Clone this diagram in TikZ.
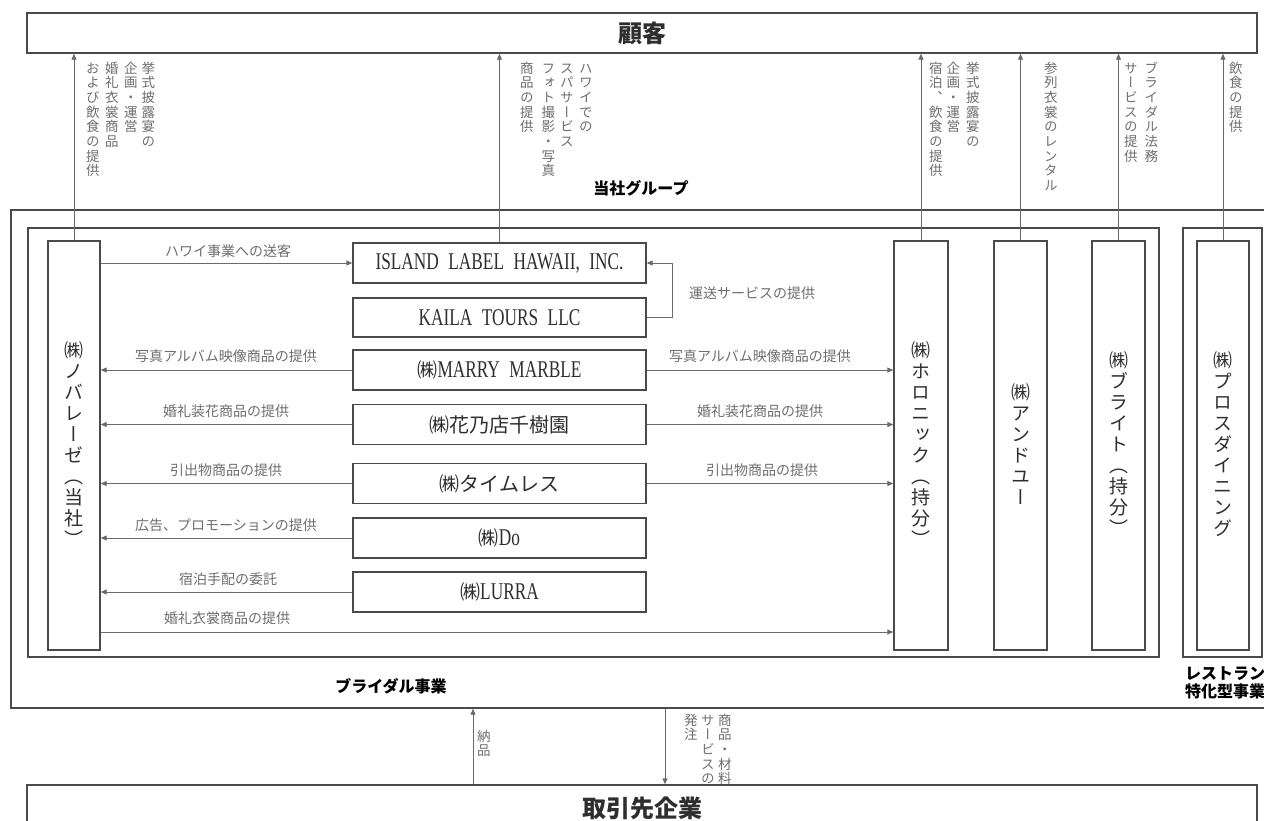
\documentclass[tikz,border=0pt]{standalone}
\usepackage{fontspec}
\setmainfont{Noto Sans CJK JP}
\newfontfamily\vfont[RawFeature=+vert]{Noto Sans CJK JP}
\newfontfamily\latfont[FakeStretch=0.72,WordSpace=2.2]{Liberation Serif}
\newcommand\latf{\latfont\fontsize{24}{26}\selectfont}
\usetikzlibrary{arrows.meta}
\ExplSyntaxOn
\cs_new_eq:NN \MapChars \tl_map_inline:nn
\ExplSyntaxOff
\newcommand\vt[2][1pt]{\vtop{\offinterlineskip\MapChars{#2}{\hbox to 1em{\hss\vrule width 0pt height .88em depth .12em\relax ##1\hss}\kern#1}}}
\definecolor{boxc}{HTML}{4A4A4A}
\definecolor{linec}{HTML}{6A6A6A}
\definecolor{labc}{HTML}{6E6E6E}
\definecolor{txtc}{HTML}{2E2E2E}
\begin{document}
\begin{tikzpicture}[x=1pt,y=-1pt,
  box/.style={draw=boxc,line width=1.4pt,rectangle,inner sep=0pt,text=txtc},
  hbx/.style={box,minimum width=293,minimum height=40,font=\fontsize{20}{22}\selectfont},
  tall/.style={box,minimum height=409,font=\vfont\fontsize{19}{20}\selectfont},
  title/.style={box,minimum width=1230,font=\bfseries\fontsize{24}{28}\selectfont},
  arr/.style={draw=linec,line width=0.9pt,-{Triangle[length=6pt,width=5pt]}},
  elab/.style={inner sep=0pt,text=labc,font=\fontsize{14}{16}\selectfont},
  vlab/.style={inner sep=0pt,text=labc,anchor=north west,font=\vfont\fontsize{13.5}{14}\selectfont},
  glab/.style={inner sep=0pt,text=black,font=\bfseries\fontsize{16}{20}\selectfont}]
\useasboundingbox (0,0) rectangle (1264,820);
\fill[white] (0,0) rectangle (1264,820);

% containers
\node[box,minimum width=1279,minimum height=498] (grp) at (650.5,459) {};
\node[box,minimum width=1131,minimum height=429] (bridal) at (593.5,442.5) {};
\node[box,minimum width=79,minimum height=429] (rest) at (1222.5,442.5) {};
\node[title,minimum height=40] (cust) at (642,33) {顧客};
\node[title,minimum height=46] (supp) at (642,808) {取引先企業};

% group labels
\node[glab] (glabel) at (641,188) {当社グループ};
\node[glab] (blabel) at (391,686) {ブライダル事業};
\node[glab,align=center] (rlabel) at (1225,683) {レストラン\\[-2pt]特化型事業};

% tall companies
\node[tall,minimum width=52] (nov) at (74,445.5) {\vt[2pt]{㈱ノバレーゼ（当社）}};
\node[tall,minimum width=54] (hol) at (921,445.5) {\vt[2pt]{㈱ホロニック（持分）}};
\node[tall,minimum width=53] (andu) at (1020.5,445.5) {\vt[2pt]{㈱アンドユー}};
\node[tall,minimum width=53] (bri) at (1118.5,445.5) {\vt[2pt]{㈱ブライト（持分）}};
\node[tall,minimum width=52] (pros) at (1223,445.5) {\vt[2pt]{㈱プロスダイニング}};

% middle companies
\node[hbx] (isl) at (499.5,263) {\latf ISLAND LABEL HAWAII, INC.};
\node[hbx,minimum height=39] (kai) at (499.5,317.5) {\latf KAILA TOURS LLC};
\node[hbx] (mar) at (499.5,370) {㈱\latf MARRY MARBLE};
\node[hbx] (hana) at (499.5,424.5) {㈱花乃店千樹園};
\node[hbx] (time) at (499.5,483.5) {㈱タイムレス};
\node[hbx] (do) at (499.5,538) {㈱\latf Do};
\node[hbx] (lur) at (499.5,592) {㈱\latf LURRA};

% helper coordinates
\coordinate (kimono) at (0,632);
\coordinate (nohinx) at (473,0);
\coordinate (hatx) at (665,0);

% arrows to customers
\draw[arr] (nov.north) -- (nov.north |- cust.south);
\draw[arr] (isl.north) -- (isl.north |- cust.south);
\draw[arr] (hol.north) -- (hol.north |- cust.south);
\draw[arr] (andu.north) -- (andu.north |- cust.south);
\draw[arr] (bri.north) -- (bri.north |- cust.south);
\draw[arr] (pros.north) -- (pros.north |- cust.south);

% internal arrows
\draw[arr] (nov.east |- isl.west) -- (isl.west);
\draw[arr] (kai.east) -- ++(26,0) |- (isl.east);
\draw[arr] (mar.west) -- (nov.east |- mar.west);
\draw[arr] (mar.east) -- (hol.west |- mar.east);
\draw[arr] (hana.west) -- (nov.east |- hana.west);
\draw[arr] (hana.east) -- (hol.west |- hana.east);
\draw[arr] (time.west) -- (nov.east |- time.west);
\draw[arr] (time.east) -- (hol.west |- time.east);
\draw[arr] (do.west) -- (nov.east |- do.west);
\draw[arr] (lur.west) -- (nov.east |- lur.west);
\draw[arr] (nov.east |- kimono) -- (hol.west |- kimono);

% supplier arrows
\draw[arr] (nohinx |- supp.north) -- (nohinx |- grp.south);
\draw[arr] (hatx |- grp.south) -- (hatx |- supp.north);

% edge labels
\node[elab] (l1) at (228,251) {ハワイ事業への送客};
\node[elab] (l2) at (752,293) {運送サービスの提供};
\node[elab] (l3) at (226,356) {写真アルバム映像商品の提供};
\node[elab] (l4) at (760,356) {写真アルバム映像商品の提供};
\node[elab] (l5) at (226,411) {婚礼装花商品の提供};
\node[elab] (l6) at (760,411) {婚礼装花商品の提供};
\node[elab] (l7) at (226,470) {引出物商品の提供};
\node[elab] (l8) at (762,470) {引出物商品の提供};
\node[elab] (l9) at (226,525) {広告、プロモーションの提供};
\node[elab] (l10) at (228,579) {宿泊手配の委託};
\node[elab] (l11) at (227,618) {婚礼衣裳商品の提供};

% vertical labels
\node[vlab] (v1) at (86,61) {\hbox{\vt[1.2pt]{および飲食の提供}\hskip5.5pt\vt[1.2pt]{婚礼衣裳商品}\hskip5.5pt\vt[1.2pt]{企画・運営}\hskip4pt\vt[1.2pt]{挙式披露宴の}}};
\node[vlab] (v2) at (520,61) {\hbox{\vt[1.2pt]{商品の提供}\hskip8pt\vt[1.2pt]{フォト撮影・写真}\hskip5pt\vt[1.2pt]{スパサービス}\hskip5.5pt\vt[1.2pt]{ハワイでの}}};
\node[vlab] (v3) at (929,61) {\hbox{\vt[1.2pt]{宿泊、飲食の提供}\hskip4pt\vt[1.2pt]{企画・運営}\hskip6pt\vt[1.2pt]{挙式披露宴の}}};
\node[vlab] (v4) at (1044,61) {\vt[1.2pt]{参列衣裳のレンタル}};
\node[vlab] (v5) at (1124,61) {\hbox{\vt[1.2pt]{サービスの提供}\hskip7pt\vt[1.2pt]{ブライダル法務}}};
\node[vlab] (v6) at (1229,61) {\vt[1.2pt]{飲食の提供}};
\node[vlab] (v7) at (477,729) {\vt[1.2pt]{納品}};
\node[vlab] (v8) at (684,713) {\hbox{\vt[1.2pt]{発注}\hskip3.5pt\vt[1.2pt]{サービスの}\hskip3.5pt\vt[1.2pt]{商品・材料}}};
\end{tikzpicture}
\end{document}
